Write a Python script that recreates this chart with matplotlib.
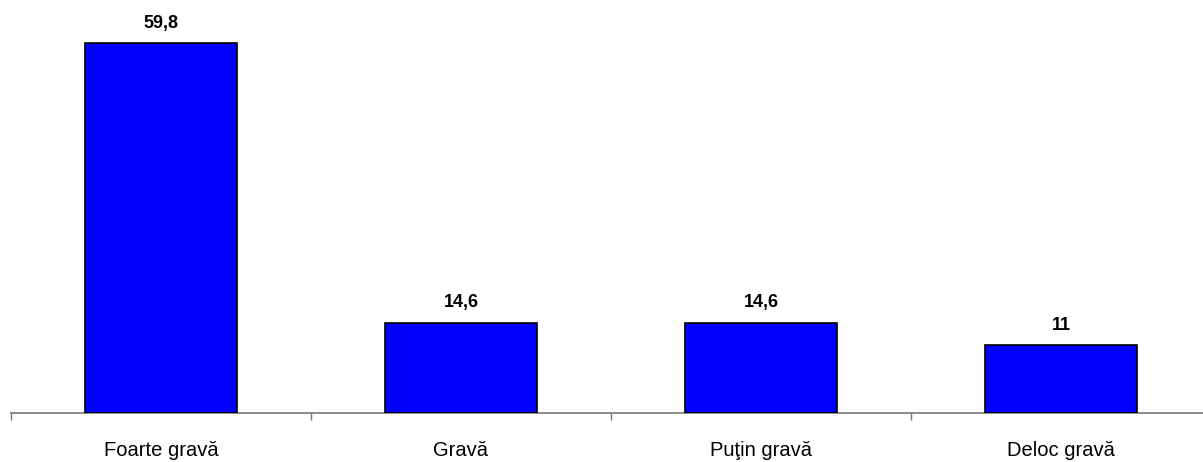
import matplotlib.pyplot as plt
import numpy as np

plt.rcParams['font.family'] = ['Liberation Sans', 'DejaVu Sans']

# data
categories = ['Foarte gravă', 'Gravă', 'Puţin gravă', 'Deloc gravă']
values = [59.8, 14.6, 14.6, 11]
value_labels = ['59,8', '14,6', '14,6', '11']

fig = plt.figure(figsize=(12.03, 4.62), dpi=100)
# axes runs a bit past the right edge, like the original
ax = fig.add_axes([11 / 1203, 49 / 462, 1200 / 1203, 413 / 462])

x = np.arange(len(categories))
ax.bar(x, values, width=0.505, color='#0000FF', edgecolor='black', linewidth=1.2, zorder=3)

for xi, v, lab in zip(x, values, value_labels):
    ax.annotate(lab, (xi, v), xytext=(0, 8), textcoords='offset points',
                ha='center', va='bottom', fontsize=13, fontweight='bold')

ax.set_xlim(-0.5, len(categories) - 0.5)
ax.set_ylim(0, 66.7)

# tick marks at category borders, labels in the middle
ax.set_xticks(np.arange(len(categories) + 1) - 0.5)
ax.set_xticklabels([])
ax.tick_params(axis='x', direction='out', length=5, width=1, color='#777777')
for xi, c in zip(x, categories):
    ax.text(xi, -0.09, c, transform=ax.get_xaxis_transform(), ha='center', va='center',
            fontsize=14.5)

ax.set_yticks([])
for s in ['top', 'right', 'left']:
    ax.spines[s].set_visible(False)
ax.spines['bottom'].set_color('#777777')
ax.spines['bottom'].set_linewidth(1.2)

fig.savefig('out.png', dpi=100)
